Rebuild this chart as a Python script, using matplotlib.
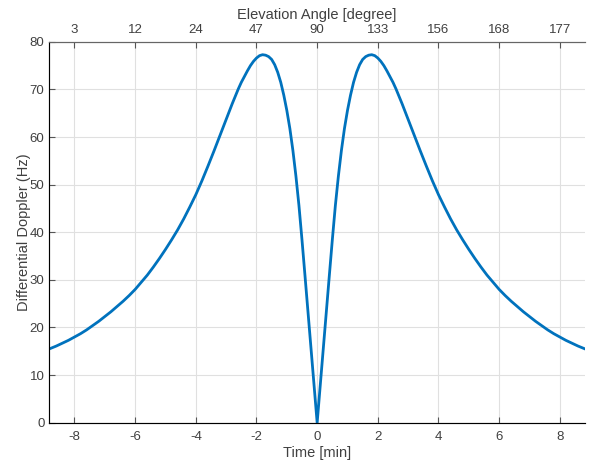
import numpy as np
import matplotlib.pyplot as plt

# Data (right half, mirrored for the left half)
t_half = [0.0, 0.1, 0.2, 0.3, 0.4, 0.5, 0.6, 0.7, 0.8, 0.9, 1.0, 1.1, 1.2,
          1.3, 1.4, 1.5, 1.6, 1.7, 1.8, 1.9, 2.0, 2.1, 2.2, 2.3, 2.4, 2.5,
          2.6, 2.8, 3.0, 3.2, 3.4, 3.6, 3.8, 4.0, 4.2, 4.4, 4.6, 4.8, 5.0,
          5.2, 5.4, 5.6, 5.8, 6.0, 6.2, 6.4, 6.6, 6.8, 7.0, 7.2, 7.4, 7.6,
          7.8, 8.0, 8.2, 8.4, 8.6, 8.83]
doppler_half = [0.0, 7.7, 15.4, 23.1, 30.8, 38.4, 45.6, 51.8, 57.2, 61.8,
                65.6, 68.8, 71.5, 73.6, 75.2, 76.3, 76.9, 77.2, 77.3, 77.1,
                76.6, 75.9, 75.0, 73.9, 72.7, 71.5, 70.1, 67.0, 63.7, 60.4,
                57.1, 53.9, 50.8, 47.9, 45.3, 42.8, 40.5, 38.4, 36.4, 34.5,
                32.7, 31.0, 29.5, 28.0, 26.7, 25.5, 24.4, 23.3, 22.3, 21.3,
                20.4, 19.5, 18.7, 18.0, 17.3, 16.7, 16.1, 15.5]

time_ticks = [-8, -6, -4, -2, 0, 2, 4, 6, 8]
elev_labels = ['3', '12', '24', '47', '90', '133', '156', '168', '177']

t = [-v for v in t_half[:0:-1]] + t_half
doppler = doppler_half[:0:-1] + doppler_half

plt.rcParams['font.family'] = ['Liberation Sans', 'DejaVu Sans']
plt.rcParams['axes.unicode_minus'] = False

fig = plt.figure(figsize=(5.9, 4.65), dpi=100, facecolor='w')
ax = fig.add_axes([0.0836, 0.091, 0.9079, 0.819])

txt = '#404040'
ax.plot(t, doppler, color='#0072BD', linewidth=2.0)
ax.set_xlim(-8.83, 8.83)
ax.set_ylim(0, 80)
ax.set_xticks(time_ticks)
ax.set_yticks(np.arange(0, 81, 10))
ax.grid(True, color='#e0e0e0', linewidth=0.8)
ax.tick_params(direction='in', length=4, colors='#555555', labelcolor=txt,
               labelsize=9.5)
ax.tick_params(axis='x', pad=5.7)
ax.set_xlabel('Time [min]', fontsize=10.5, color=txt, labelpad=2.5)
ax.set_ylabel('Differential Doppler (Hz)', fontsize=10.5, color=txt, labelpad=-1)
for s in ['left', 'bottom', 'top']:
    ax.spines[s].set_color('#666666')
ax.spines['right'].set_visible(False)

ax2 = ax.twiny()
ax2.set_xlim(ax.get_xlim())
ax2.set_xticks(time_ticks)
ax2.set_xticklabels(elev_labels)
ax2.tick_params(direction='in', length=4, colors='#555555', labelcolor=txt,
                labelsize=9.5, pad=4)
ax2.set_xlabel('Elevation Angle [degree]', fontsize=10.5, color=txt, labelpad=4)
ax2.spines['right'].set_visible(False)
ax2.spines['top'].set_color('#666666')

fig.savefig('out.png', dpi=100)
